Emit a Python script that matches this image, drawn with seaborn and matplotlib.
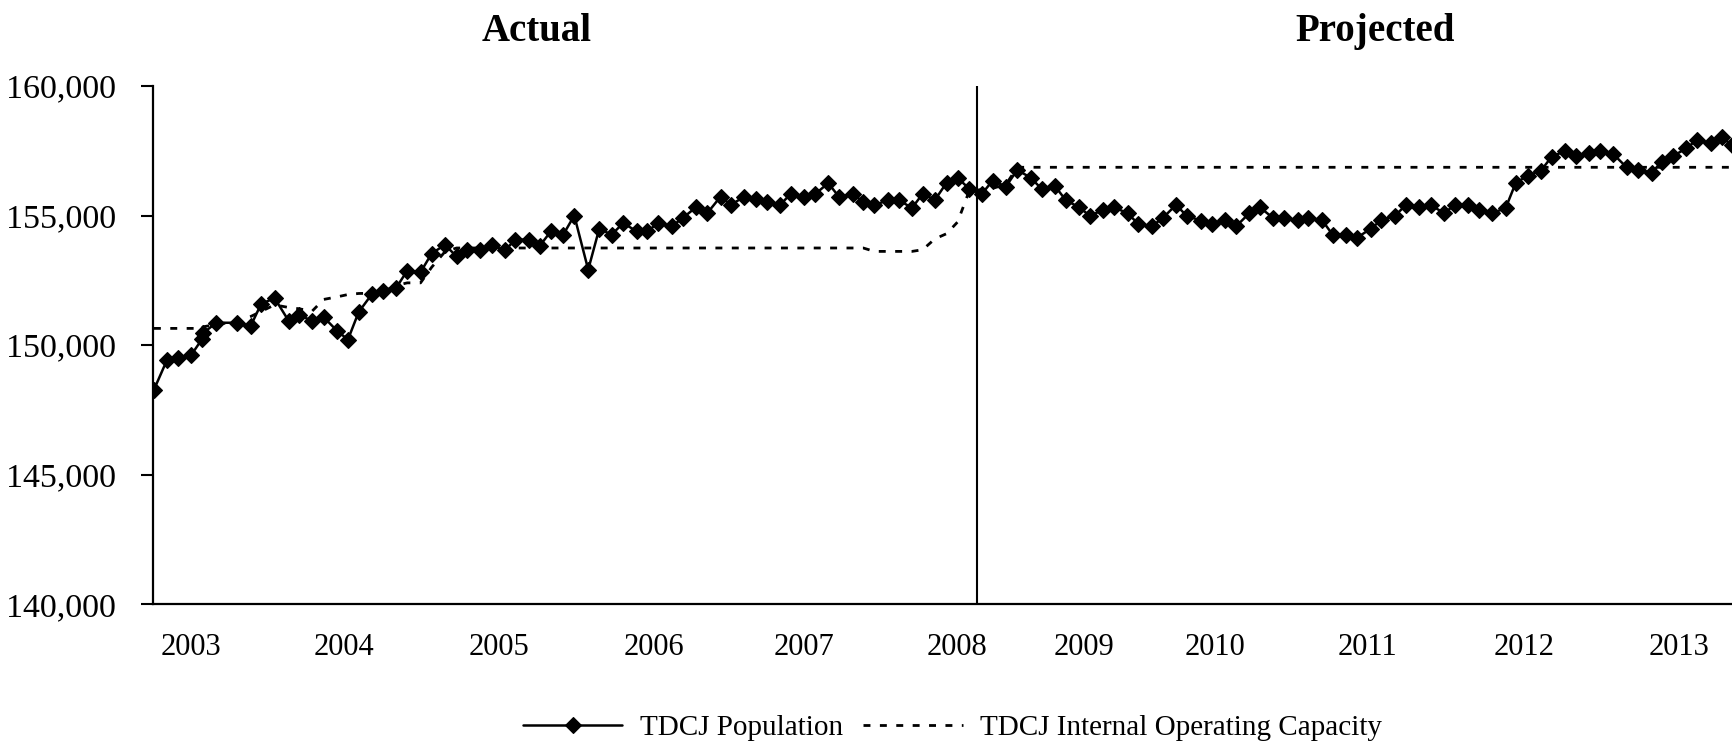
import matplotlib
matplotlib.use("Agg")
import matplotlib.pyplot as plt
from matplotlib.ticker import FuncFormatter
import seaborn as sns
import pandas as pd

# position on the chart's date axis, in months from Sept 2002
month_pos = [
    0.0, 1.08, 2.0, 3.11, 4.0, 4.08, 5.19, 6.94, 8.06, 8.94,
    10.06, 11.22, 12.08, 13.19, 14.14, 15.28, 16.17, 17.06, 18.19, 19.08,
    20.19, 21.11, 22.22, 23.14, 24.25, 25.22, 26.11, 27.17, 28.14, 29.25,
    30.11, 31.25, 32.17, 33.08, 34.11, 35.03, 36.19, 37.11, 38.14, 39.11,
    40.22, 41.11, 42.03, 43.14, 44.06, 45.17, 46.11, 47.22, 48.08, 49.19,
    50.17, 51.06, 52.17, 53.06, 54.17, 55.08, 56.19, 57.11, 58.22, 59.11,
    60.03, 61.14, 62.06, 63.17, 64.06, 65.08, 66.06, 66.97, 67.94, 68.97,
    69.89, 71.0, 71.94, 73.06, 73.97, 75.08, 75.97, 77.11, 78.0, 79.11,
    80.03, 81.14, 82.03, 83.14, 84.06, 85.17, 86.06, 87.25, 88.14, 89.25,
    90.17, 91.28, 92.17, 93.28, 94.19, 95.31, 96.19, 97.36, 98.22, 99.33,
    100.28, 101.39, 102.25, 103.42, 104.33, 105.44, 106.39, 107.5, 108.42, 109.47,
    110.42, 111.53, 112.64, 113.47, 114.47, 115.58, 116.47, 117.58, 118.47, 119.58,
    120.5, 121.61, 122.72, 123.64, 124.81, 125.64, 126.61, 127.67, 128.56, 129.72,
    130.64, 131.5,
]

population = [
    148270, 149410, 149490, 149615, 150220, 150450, 150860, 150860, 150730, 151590,
    151810, 150940, 151150, 150940, 151080, 150540, 150210, 151270, 151980, 152080,
    152210, 152870, 152810, 153530, 153870, 153420, 153650, 153650, 153850, 153650,
    154070, 154070, 153840, 154390, 154260, 155000, 152910, 154490, 154260, 154710,
    154390, 154390, 154710, 154580, 154900, 155320, 155090, 155730, 155410, 155730,
    155630, 155530, 155400, 155840, 155710, 155820, 156250, 155710, 155840, 155520,
    155390, 155600, 155600, 155290, 155840, 155600, 156270, 156460, 156030, 155820,
    156350, 156120, 156760, 156460, 156030, 156140, 155600, 155310, 154990, 155220,
    155310, 155090, 154670, 154580, 154900, 155410, 154990, 154800, 154670, 154810,
    154580, 155090, 155310, 154900, 154900, 154810, 154900, 154810, 154260, 154260,
    154150, 154490, 154810, 154990, 155410, 155310, 155410, 155090, 155410, 155410,
    155220, 155090, 155290, 156250, 156540, 156730, 157270, 157490, 157300, 157420,
    157490, 157370, 156860, 156760, 156650, 157080, 157300, 157590, 157910, 157790,
    158020, 157720,
]

capacity = [
    150642, 150642, 150642, 150642, 150642, 150700, 150800, 150900, 151100, 151300,
    151550, 151450, 151400, 151310, 151760, 151860, 151950, 151990, 152000, 152050,
    152300, 152400, 152400, 153000, 153600, 153746, 153746, 153746, 153746, 153746,
    153746, 153746, 153746, 153746, 153746, 153746, 153746, 153746, 153746, 153746,
    153746, 153746, 153746, 153746, 153746, 153746, 153746, 153746, 153746, 153746,
    153746, 153746, 153746, 153746, 153746, 153746, 153746, 153746, 153746, 153746,
    153615, 153615, 153615, 153615, 153680, 154100, 154300, 154750, 155950, 156000,
    156050, 156200, 156862, 156862, 156862, 156862, 156862, 156862, 156862, 156862,
    156862, 156862, 156862, 156862, 156862, 156862, 156862, 156862, 156862, 156862,
    156862, 156862, 156862, 156862, 156862, 156862, 156862, 156862, 156862, 156862,
    156862, 156862, 156862, 156862, 156862, 156862, 156862, 156862, 156862, 156862,
    156862, 156862, 156862, 156862, 156862, 156862, 156862, 156862, 156862, 156862,
    156862, 156862, 156862, 156862, 156862, 156862, 156862, 156862, 156862, 156862,
    156862, 156862,
]

year_labels = ['2003', '2004', '2005', '2006', '2007', '2008',
               '2009', '2010', '2011', '2012', '2013']
year_label_pos = [3.08, 15.83, 28.75, 41.67, 54.17, 66.96,
                  77.47, 88.42, 101.15, 114.17, 127.06]
projection_start = 68.58

sns.set_style("white")
plt.rcParams['font.family'] = ['Liberation Serif', 'DejaVu Serif']
plt.rcParams['text.color'] = 'black'

df = pd.DataFrame({'month': month_pos, 'population': population, 'capacity': capacity})

fig = plt.figure(figsize=(17.32, 7.46), dpi=100)
ax = fig.add_axes([0.0883, 0.1903, 0.9117, 0.6944])

sns.lineplot(data=df, x='month', y='capacity', ax=ax, color='black', lw=2,
             linestyle=(0, (2.5, 3.4)), label='TDCJ Internal Operating Capacity')
sns.lineplot(data=df, x='month', y='population', ax=ax, color='black', lw=1.8,
             marker='D', markersize=7.8, markeredgecolor='black', markeredgewidth=0.8,
             label='TDCJ Population')

ax.axvline(projection_start, color='black', lw=1.5)

ax.set_xlim(-0.08, 131.5)
ax.set_ylim(140000, 160000)
ax.set_yticks([140000, 145000, 150000, 155000, 160000])
ax.yaxis.set_major_formatter(FuncFormatter(lambda v, _: f"{int(v):,}"))
ax.set_xticks(year_label_pos)
ax.set_xticklabels(year_labels)
ax.set_xlabel('')
ax.set_ylabel('')

sns.despine(ax=ax, top=True, right=True)
for side in ['left', 'bottom']:
    ax.spines[side].set_color('black')
    ax.spines[side].set_linewidth(1.6)
ax.tick_params(axis='y', left=True, direction='out', length=8.5, width=1.5,
               color='black', labelsize=24.5, pad=18, labelcolor='black')
ax.tick_params(axis='x', bottom=False, length=0, labelsize=22, pad=21, labelcolor='black')

fig.text(0.310, 0.958, 'Actual', ha='center', va='center', fontsize=28, fontweight='bold')
fig.text(0.794, 0.958, 'Projected', ha='center', va='center', fontsize=28, fontweight='bold')

handles, labels = ax.get_legend_handles_labels()
ax.get_legend().remove()
order = [1, 0]
fig.legend([handles[i] for i in order], [labels[i] for i in order],
           loc='center', bbox_to_anchor=(0.55, 0.024), ncol=2, frameon=False,
           fontsize=21, handlelength=3.4, handletextpad=0.6, columnspacing=0.7,
           numpoints=1, labelcolor='black', borderpad=0.1)

fig.savefig('out.png', dpi=100)
